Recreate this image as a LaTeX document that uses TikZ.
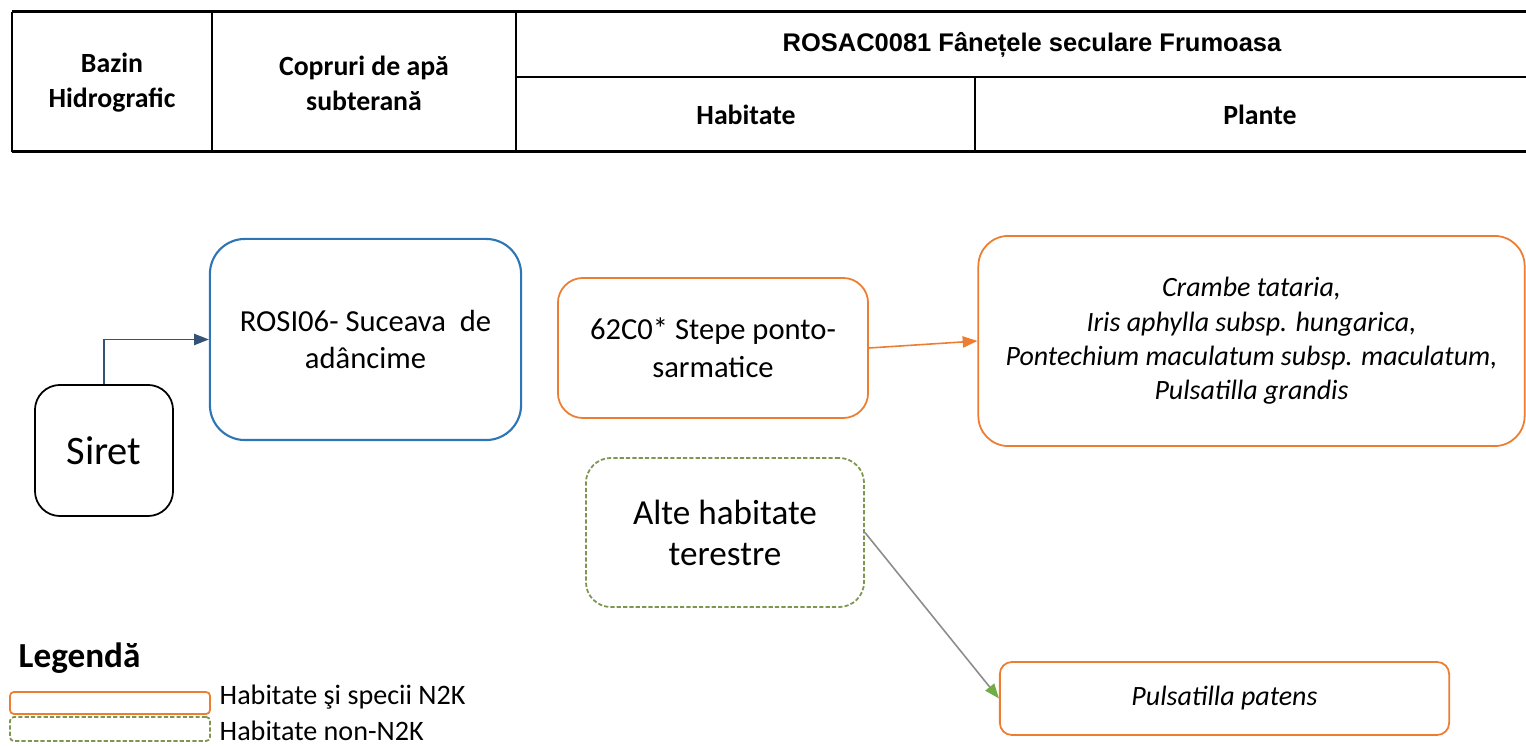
\documentclass[tikz,border=0pt]{standalone}
\usepackage{fontspec}
\setmainfont{Carlito}
\newfontfamily\arialfont{Liberation Sans}
\usetikzlibrary{arrows.meta}

\definecolor{boxblue}{RGB}{46,117,182}
\definecolor{boxorange}{RGB}{237,125,49}
\definecolor{boxgreen}{RGB}{112,173,71}
\definecolor{dashgreen}{RGB}{125,150,80}
\definecolor{linkblue}{RGB}{52,82,120}
\definecolor{linkgrey}{RGB}{140,140,140}

\begin{document}
\begin{tikzpicture}[x=0.01cm,y=-0.01cm,
	cell/.style={font=\bfseries\fontsize{7.9}{10}\selectfont, align=center},
	basebox/.style={draw, align=center, inner sep=0pt, line width=0.5pt, fill=white},
	river/.style={basebox, draw=black, rounded corners=0.25cm, font=\fontsize{11.5}{13.5}\selectfont},
	aquifer/.style={basebox, draw=boxblue, line width=0.6pt, rounded corners=0.35cm, font=\fontsize{8.7}{10.5}\selectfont},
	n2k/.style={basebox, draw=boxorange, font=\fontsize{8.7}{10.8}\selectfont},
	nonn2k/.style={basebox, draw=dashgreen, dash pattern=on 1.2pt off 0.6pt},
	species/.style={font=\itshape\fontsize{7.95}{9.8}\selectfont},
	legtext/.style={anchor=west, inner sep=2pt, font=\fontsize{8}{9.6}\selectfont},
	link/.style={-{Triangle[length=4.2pt,width=3.2pt]}, line width=0.45pt}]

	\useasboundingbox (0,0) rectangle (1526,746);

	% table head
	\draw[line width=0.85pt] (12,12) -- (1526,12);
	\draw[line width=0.7pt] (516,77) -- (1526,77);
	\draw[line width=0.85pt] (12,152) -- (1526,152);
	\draw[line width=0.35pt] (12,12) -- (12,152);
	\draw[line width=0.35pt] (212,12) -- (212,152);
	\draw[line width=0.35pt] (516,12) -- (516,152);
	\draw[line width=0.35pt] (975,77) -- (975,152);

	\node[cell] (bazin) at (112,83) {Bazin\\Hidrografic};
	\node[cell] (copruri) at (364,83) {Copruri de apă\\subterană};
	\node[cell, font=\arialfont\bfseries\fontsize{7.25}{9}\selectfont] (sit) at (1032,45) {ROSAC0081 Fânețele seculare Frumoasa};
	\node[cell] (habitate) at (746,115) {Habitate};
	\node[cell] (plante) at (1260,115) {Plante};

	% boxes
	\node[river, minimum width=1.38cm, minimum height=1.31cm] (siret) at (104,450.5) {Siret};
	\node[aquifer, minimum width=3.11cm, minimum height=2.01cm] (rosi) at (365.5,339.5) {ROSI06- Suceava\ \ de\\adâncime};
	\node[n2k, rounded corners=0.25cm, minimum width=3.10cm, minimum height=1.40cm] (stepe) at (713,348) {62C0* Stepe ponto-\\sarmatice};
	\node[n2k, species, rounded corners=0.3cm, minimum width=5.46cm, minimum height=2.10cm] (specii) at (1251.5,341)
		{Crambe tataria,\\Iris aphylla subsp. hungarica,\\Pontechium maculatum subsp. maculatum,\\Pulsatilla grandis};
	\node[nonn2k, rounded corners=0.25cm, minimum width=2.78cm, minimum height=1.49cm, font=\fontsize{10}{11.7}\selectfont] (alte) at (725,532.5) {Alte habitate\\terestre};
	\node[n2k, species, rounded corners=0.12cm, minimum width=4.49cm, minimum height=0.73cm] (patens) at (1224.5,698.5) {Pulsatilla patens};

	% links
	\draw[link, draw=linkblue] (siret.north) |- (rosi.west);
	\draw[link, draw=boxorange] (stepe.east) -- (specii.west);
	\draw[link, draw=linkgrey, -{Triangle[length=4.2pt,width=3.2pt,color=boxgreen]}] (alte.east) -- (patens.west);

	% legend
	\node[anchor=west, inner sep=0pt, font=\bfseries\fontsize{10}{12}\selectfont] (legenda) at (18,658) {Legendă};
	\node[n2k, rounded corners=0.04cm, minimum width=2cm, minimum height=0.22cm] (keyn2k) at (110,703) {};
	\node[nonn2k, rounded corners=0.04cm, minimum width=2cm, minimum height=0.24cm] (keynon) at (110,729) {};
	\node[legtext] (textn2k) at (212,697) {Habitate şi specii N2K};
	\node[legtext] (textnon) at (212,731) {Habitate non-N2K};

\end{tikzpicture}
\end{document}
